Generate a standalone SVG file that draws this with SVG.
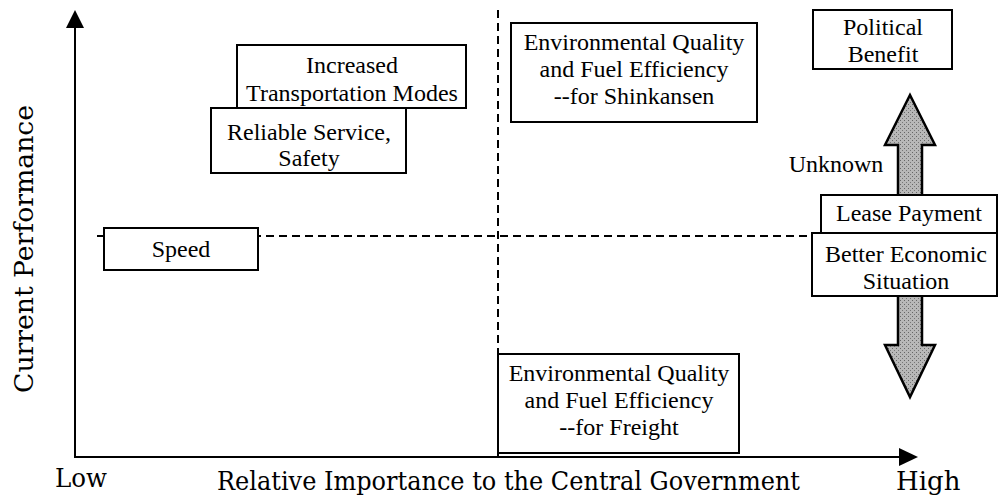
<svg xmlns="http://www.w3.org/2000/svg" width="999" height="497" viewBox="0 0 999 497">
<style>
.box{fill:#fff;stroke:#000;stroke-width:2}
.t{font-size:24px;fill:#000;text-anchor:middle}
.ax{font-size:26px;fill:#000}
.dash{stroke:#000;stroke-width:2;stroke-dasharray:8 5;fill:none}
.axis{stroke:#000;stroke-width:2;fill:none}
</style>
<defs>
<pattern id="stip" width="4" height="4" patternUnits="userSpaceOnUse">
<rect width="4" height="4" fill="#b8b8b8"/>
<rect x="0" y="0" width="1" height="1" fill="#666"/>
<rect x="2" y="2" width="1" height="1" fill="#777"/>
</pattern>
</defs>
<rect width="999" height="497" fill="#fff"/>
<g id="connectors">
<line class="axis" x1="75" y1="458" x2="75" y2="26"/>
<polygon points="75,10 66,28 84,28" fill="#000"/>
<line class="axis" x1="75" y1="457" x2="900" y2="457"/>
<polygon points="918,457 899,448 899,466" fill="#000"/>
<line class="dash" x1="97" y1="236" x2="812" y2="236"/>
<line class="dash" x1="498" y1="10" x2="498" y2="456"/>
<polygon points="910,95 935,145 922,145 922,345 935,345 910,397 885,345 898,345 898,145 885,145" fill="url(#stip)" stroke="#000" stroke-width="2.5"/>
</g>
<g font-family="'Liberation Serif', 'Times New Roman', Times, serif">
<g id="speed"><rect class="box" x="104" y="228" width="154" height="42"/><text class="t" x="181" y="257">Speed</text></g>
<g id="increased"><rect class="box" x="237" y="45" width="229" height="63"/><text class="t" x="352" y="73">Increased</text><text class="t" x="352" y="101">Transportation Modes</text></g>
<g id="reliable"><rect class="box" x="211" y="108" width="195" height="65"/><text class="t" x="309" y="140">Reliable Service,</text><text class="t" x="309" y="166">Safety</text></g>
<g id="env-shinkansen"><rect class="box" x="511" y="23" width="246" height="99"/><text class="t" x="634" y="50">Environmental Quality</text><text class="t" x="634" y="77">and Fuel Efficiency</text><text class="t" x="634" y="104">--for Shinkansen</text></g>
<g id="env-freight"><rect class="box" x="498" y="354" width="241" height="99"/><text class="t" x="619" y="381">Environmental Quality</text><text class="t" x="619" y="408">and Fuel Efficiency</text><text class="t" x="619" y="435">--for Freight</text></g>
<g id="political"><rect class="box" x="813" y="10" width="139" height="59"/><text class="t" x="883" y="35">Political</text><text class="t" x="883" y="62">Benefit</text></g>
<g id="unknown"><text class="t" x="836" y="172">Unknown</text></g>
<g id="lease"><rect class="box" x="821" y="195" width="176" height="38"/><text class="t" x="909" y="221">Lease Payment</text></g>
<g id="economic"><rect class="box" x="812" y="233" width="185" height="63"/><text class="t" x="906" y="262">Better Economic</text><text class="t" x="906" y="289">Situation</text></g>
</g>
<g id="labels" font-family="'DejaVu Serif', 'Liberation Serif', serif">
<text class="ax" x="55" y="487" textLength="52" lengthAdjust="spacingAndGlyphs">Low</text>
<text class="ax" x="217" y="490" textLength="583" lengthAdjust="spacingAndGlyphs">Relative Importance to the Central Government</text>
<text class="ax" x="896" y="490">High</text>
<text class="ax" transform="translate(33,249) rotate(-90)" x="0" y="0" text-anchor="middle" textLength="288" lengthAdjust="spacingAndGlyphs">Current Performance</text>
</g>
</svg>
